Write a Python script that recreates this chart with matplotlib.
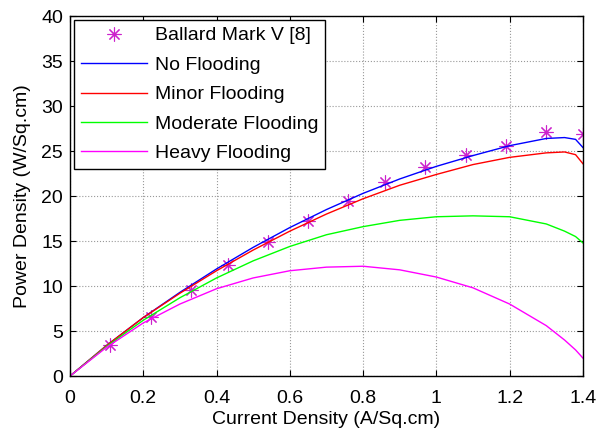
import matplotlib
matplotlib.use("Agg")
import matplotlib.pyplot as plt
import numpy as np

plt.rcParams['font.family'] = ['Liberation Sans', 'DejaVu Sans']

# Experimental data (Ballard Mark V)
exp_x = [0.11, 0.22, 0.33, 0.43, 0.54, 0.65, 0.76, 0.86, 0.97, 1.08, 1.19, 1.30, 1.40]
exp_y = [3.4, 6.6, 9.6, 12.3, 14.9, 17.2, 19.5, 21.6, 23.2, 24.6, 25.6, 27.1, 26.9]

# Model curves
cx = [0.0, 0.1, 0.2, 0.3, 0.4, 0.5, 0.6, 0.7, 0.8, 0.9, 1.0, 1.1, 1.2, 1.3, 1.35, 1.38, 1.4]
no_flood = [0.0, 3.4, 6.5, 9.3, 11.9, 14.3, 16.5, 18.5, 20.3, 21.9, 23.3, 24.5, 25.6, 26.4, 26.5, 26.3, 25.4]
minor_flood = [0.0, 3.4, 6.5, 9.2, 11.7, 14.0, 16.1, 18.0, 19.7, 21.2, 22.4, 23.5, 24.3, 24.8, 24.9, 24.6, 23.6]
moderate_flood = [0.0, 3.3, 6.2, 8.7, 10.9, 12.8, 14.4, 15.7, 16.6, 17.3, 17.7, 17.8, 17.7, 16.9, 16.1, 15.5, 14.8]
heavy_flood = [0.0, 3.2, 5.9, 8.0, 9.7, 10.9, 11.7, 12.1, 12.2, 11.8, 11.0, 9.8, 8.0, 5.6, 4.0, 2.9, 2.0]

xticks = [0, 0.2, 0.4, 0.6, 0.8, 1.0, 1.2, 1.4]
xticklabels = ['0', '0.2', '0.4', '0.6', '0.8', '1', '1.2', '1.4']
yticks = [0, 5, 10, 15, 20, 25, 30, 35, 40]

fig = plt.figure(figsize=(5.96, 4.29), dpi=100)
ax = fig.add_axes([0.1175, 0.1235, 0.8605, 0.839])

ax.plot(exp_x, exp_y, linestyle='none', marker=(8, 2, 0), markersize=10,
        color='#cc22cc', markeredgewidth=0.8, label='Ballard Mark V [8]')
ax.plot(cx, no_flood, color='#0000ff', lw=1.0, label='No Flooding')
ax.plot(cx, minor_flood, color='#ff0000', lw=1.0, label='Minor Flooding')
ax.plot(cx, moderate_flood, color='#00ff00', lw=1.0, label='Moderate Flooding')
ax.plot(cx, heavy_flood, color='#ff00ff', lw=1.0, label='Heavy Flooding')

ax.set_xlim(0, 1.4)
ax.set_ylim(0, 40)
ax.set_xticks(xticks)
ax.set_xticklabels(xticklabels)
ax.set_yticks(yticks)
ax.tick_params(direction='in', labelsize=14, length=4, top=True, right=True)
ax.tick_params(axis='x', pad=10)
ax.tick_params(axis='y', pad=5)
ax.grid(True, color='#999999', linestyle=':', linewidth=0.8)
for s in ax.spines.values():
    s.set_linewidth(1.0)

ax.set_xlabel('Current Density (A/Sq.cm)', fontsize=14, labelpad=3)
ax.set_ylabel('Power Density (W/Sq.cm)', fontsize=14, labelpad=7)

leg = ax.legend(loc='upper left', fontsize=14, fancybox=False, framealpha=1,
                edgecolor='black', borderpad=0.35, labelspacing=0.61,
                handlelength=3.4, handletextpad=0.4, borderaxespad=0.2)
leg.get_frame().set_linewidth(1.0)

fig.savefig('out.png', dpi=100)
